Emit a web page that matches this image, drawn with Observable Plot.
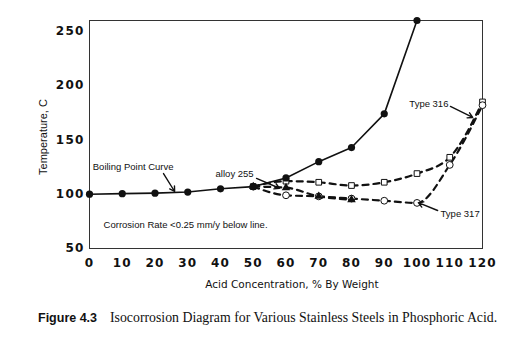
<!DOCTYPE html>
<html>
<head>
<meta charset="utf-8">
<script src="https://cdn.jsdelivr.net/npm/d3@7"></script>
<script src="https://cdn.jsdelivr.net/npm/@observablehq/plot@0.6"></script>
<style>
  body { margin: 0; background: #fff; }
  #chart svg { display: block; }
</style>
</head>
<body>
<div id="chart"></div>
<script>
// ---- data ----
const xTicks = [0, 10, 20, 30, 40, 50, 60, 70, 80, 90, 100, 110, 120];
const yTicks = [50, 100, 150, 200, 250];

const boilX = [0, 10, 20, 30, 40, 50, 60, 70, 80, 90, 100];
const boilY = [100, 100.5, 101, 102, 105, 107, 115, 130, 143, 174, 260];

const t316X = [50, 60, 70, 80, 90, 100, 110, 120];
const t316Y = [107, 112, 111, 108, 111, 119, 134, 185];

const t317X = [50, 60, 70, 80, 90, 100, 110, 120];
const t317Y = [107, 99, 98, 96, 94, 92, 127, 182];

const a255X = [50, 60, 70, 80];
const a255Y = [107, 106, 98, 95];

const labels = [
  {text: "Boiling Point Curve", x: 1, y: 125, anchor: "start"},
  {text: "alloy 255", x: 38.5, y: 119, anchor: "start"},
  {text: "Type 316", x: 109.6, y: 183.5, anchor: "end"},
  {text: "Type 317", x: 107.2, y: 82, anchor: "start"},
  {text: "Corrosion Rate <0.25 mm/y below line.", x: 4.3, y: 72, anchor: "start"}
];
const arrows = [
  {x1: 22.6, y1: 119, x2: 26, y2: 102.5},
  {x1: 51, y1: 114.5, x2: 58, y2: 105.5},
  {x1: 110.2, y1: 180.8, x2: 117, y2: 170.7},
  {x1: 106.3, y1: 85, x2: 100.4, y2: 92.2}
];

const boil = boilX.map((x, i) => ({x, y: boilY[i]}));
const t316 = t316X.map((x, i) => ({x, y: t316Y[i]}));
const t317 = t317X.map((x, i) => ({x, y: t317Y[i]}));
const a255 = a255X.map((x, i) => ({x, y: a255Y[i]}));

const ink = "#111";
const annoFont = "Liberation Sans, Arial, sans-serif";

const chart = Plot.plot({
  width: 523,
  height: 360,
  marginLeft: 89,
  marginRight: 41,
  marginTop: 20,
  marginBottom: 112,
  style: {background: "#fff", color: ink, overflow: "visible"},
  x: {domain: [0, 120], ticks: xTicks, tickSize: 0, tickPadding: 10, label: null},
  y: {domain: [50, 260], ticks: yTicks, tickSize: 0, tickPadding: 5, label: null},
  marks: [
    Plot.frame({stroke: "#333", strokeWidth: 1}),
    // dashed series
    Plot.line(t316, {x: "x", y: "y", stroke: ink, strokeWidth: 2.2, strokeDasharray: "6,5", curve: "monotone-x"}),
    Plot.line(t317, {x: "x", y: "y", stroke: ink, strokeWidth: 2.2, strokeDasharray: "6,5", curve: "monotone-x"}),
    Plot.line(a255, {x: "x", y: "y", stroke: ink, strokeWidth: 2.2, strokeDasharray: "6,5", curve: "monotone-x"}),
    Plot.dot(t316, {x: "x", y: "y", symbol: "square", r: 3.2, fill: "white", stroke: ink, strokeWidth: 1}),
    Plot.dot(t317, {x: "x", y: "y", symbol: "circle", r: 3.4, fill: "white", stroke: ink, strokeWidth: 1}),
    Plot.dot(a255, {x: "x", y: "y", symbol: "triangle", r: 3.2, fill: ink}),
    // boiling point curve
    Plot.line(boil, {x: "x", y: "y", stroke: ink, strokeWidth: 1.6}),
    Plot.dot(boil, {x: "x", y: "y", r: 3.6, fill: ink}),
    // annotations
    Plot.arrow(arrows, {x1: "x1", y1: "y1", x2: "x2", y2: "y2", stroke: ink, strokeWidth: 1.4, headLength: 6, bend: 0}),
    Plot.text(labels.filter(d => d.anchor === "start"), {x: "x", y: "y", text: "text", textAnchor: "start", fontSize: 9.5, fontFamily: annoFont, fill: ink}),
    Plot.text(labels.filter(d => d.anchor === "end"), {x: "x", y: "y", text: "text", textAnchor: "end", fontSize: 9.5, fontFamily: annoFont, fill: ink})
  ]
});

const svg = d3.select(chart);
svg.selectAll("[aria-label='x-axis tick label'] text, [aria-label='y-axis tick label'] text")
  .style("font-family", "DejaVu Sans, sans-serif")
  .style("font-size", "12px")
  .style("font-weight", "bold")
  .style("letter-spacing", "1.2px");

// axis titles
svg.append("text")
  .attr("x", 292).attr("y", 288)
  .attr("text-anchor", "middle")
  .style("font-family", "DejaVu Sans, sans-serif")
  .style("font-size", "10.5px")
  .attr("fill", ink)
  .text("Acid Concentration, % By Weight");
svg.append("text")
  .attr("transform", "translate(47,137) rotate(-90)")
  .attr("text-anchor", "middle")
  .style("font-family", annoFont)
  .style("font-size", "11px")
  .attr("fill", ink)
  .text("Temperature, C");

// caption
const cap = svg.append("text").attr("x", 38).attr("y", 322).attr("fill", ink).attr("text-anchor", "start");
cap.append("tspan")
  .style("font-family", annoFont).style("font-weight", "bold").style("font-size", "12.5px")
  .text("Figure 4.3");
cap.append("tspan")
  .attr("x", 110)
  .style("font-family", "Liberation Serif, serif").style("font-size", "13.8px")
  .text("Isocorrosion Diagram for Various Stainless Steels in Phosphoric Acid.");

document.getElementById("chart").appendChild(chart);
</script>
</body>
</html>
